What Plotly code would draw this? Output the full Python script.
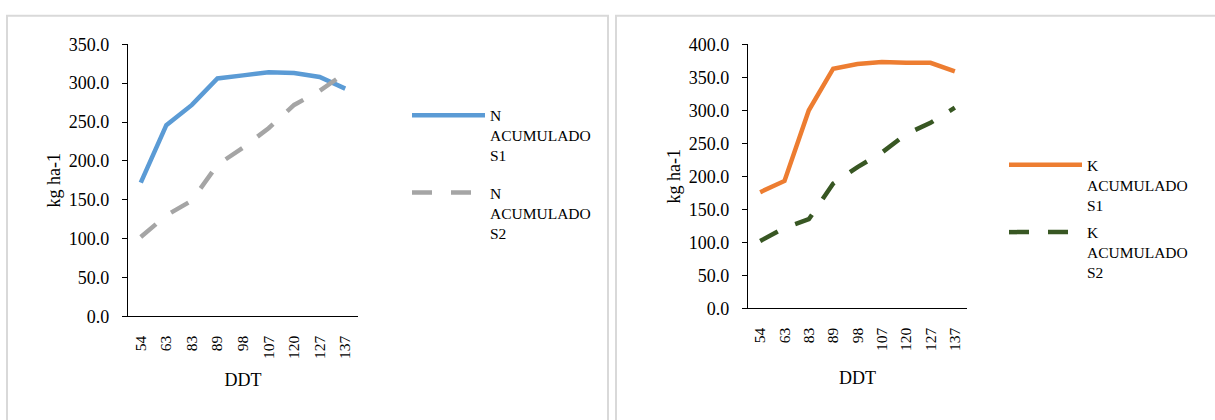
import plotly.graph_objects as go

# Days after transplant (categorical axis)
ddt = ["54", "63", "83", "89", "98", "107", "120", "127", "137"]

# Accumulated nitrogen (kg ha-1)
n_s1 = [172, 246, 272, 306, 310, 314, 313, 308, 293]
n_s2 = [102, 130, 149, 195, 217, 242, 272, 290, 313]

# Accumulated potassium (kg ha-1)
k_s1 = [176, 193, 300, 363, 370, 373, 372, 372, 359]
k_s2 = [102, 122, 135, 189, 214, 236, 264, 281, 304]

y_ticks_n = [0, 50, 100, 150, 200, 250, 300, 350]
y_ticks_k = [0, 50, 100, 150, 200, 250, 300, 350, 400]

W, H = 1215, 420
FONT = "Liberation Serif"
BLUE, GRAY, ORANGE, GREEN = "#5b9bd5", "#a5a5a5", "#ed7d31", "#385723"
LW = 4.5
DASH = "20px,19px"

fig = go.Figure()

fig.add_trace(go.Scatter(x=ddt, y=n_s1, mode="lines", name="N<br>ACUMULADO<br>S1",
                         line=dict(color=BLUE, width=LW), xaxis="x", yaxis="y",
                         legend="legend", legendgroup="n1"))
fig.add_trace(go.Scatter(x=ddt, y=n_s2, mode="lines", name="N<br>ACUMULADO<br>S2",
                         line=dict(color=GRAY, width=LW, dash=DASH), xaxis="x", yaxis="y",
                         legend="legend", legendgroup="n2"))
fig.add_trace(go.Scatter(x=ddt, y=k_s1, mode="lines", name="K<br>ACUMULADO<br>S1",
                         line=dict(color=ORANGE, width=LW), xaxis="x2", yaxis="y2",
                         legend="legend2", legendgroup="k1"))
fig.add_trace(go.Scatter(x=ddt, y=k_s2, mode="lines", name="K<br>ACUMULADO<br>S2",
                         line=dict(color=GREEN, width=LW, dash=DASH), xaxis="x2", yaxis="y2",
                         legend="legend2", legendgroup="k2"))


def xaxis(domain, anchor, title_gap):
    return dict(
        domain=domain, anchor=anchor, type="category",
        range=[-0.5, len(ddt) - 0.5],
        showline=True, linecolor="#000000", linewidth=1.3,
        ticks="", tickangle=-90, ticklabelstandoff=12,
        tickfont=dict(family=FONT, size=15.5, color="#000000"),
        title=dict(text="DDT", font=dict(family=FONT, size=18, color="#000000"), standoff=title_gap),
        showgrid=False, zeroline=False, fixedrange=True,
    )


def yaxis(domain, anchor, rng, tickvals):
    return dict(
        domain=domain, anchor=anchor, range=rng,
        tickvals=tickvals, tickformat=".1f",
        showline=True, linecolor="#000000", linewidth=1.3,
        ticks="outside", ticklen=5, tickcolor="#000000", tickwidth=1.3,
        ticklabelstandoff=9,
        tickfont=dict(family=FONT, size=18, color="#000000"),
        title=dict(text="kg ha-1", font=dict(family=FONT, size=18, color="#000000"), standoff=3),
        showgrid=False, zeroline=False, fixedrange=True,
    )


def legend(x, y, gap):
    return dict(
        x=x, y=y, xanchor="left", yanchor="top",
        font=dict(family=FONT, size=15.5, color="#000000"),
        itemwidth=73, valign="top", tracegroupgap=gap,
        bgcolor="rgba(0,0,0,0)",
    )


fig.update_layout(
    width=W, height=H,
    margin=dict(l=0, r=0, t=0, b=0),
    paper_bgcolor="#ffffff", plot_bgcolor="#ffffff",
    showlegend=True,
    xaxis=xaxis([128 / W, 358 / W], "y", 15),
    yaxis=yaxis([1 - 321.7 / H, 1 - 36 / H], "x", [0, 350], y_ticks_n),
    xaxis2=xaxis([748 / W, 967 / W], "y2", 21),
    yaxis2=yaxis([1 - 313.3 / H, 1 - 36 / H], "x2", [0, 400], y_ticks_k),
    legend=legend(407 / W, 1 - 93 / H, 14),
    legend2=legend(1004 / W, 1 - 145 / H, 4),
    shapes=[
        dict(type="rect", xref="paper", yref="paper",
             x0=7 / W, x1=608 / W, y0=-0.05, y1=1 - 6 / H,
             line=dict(color="#d9d9d9", width=2), layer="below"),
        dict(type="rect", xref="paper", yref="paper",
             x0=616 / W, x1=1.05, y0=-0.05, y1=1 - 6 / H,
             line=dict(color="#d9d9d9", width=2), layer="below"),
    ],
)

fig.write_html("out.html")
